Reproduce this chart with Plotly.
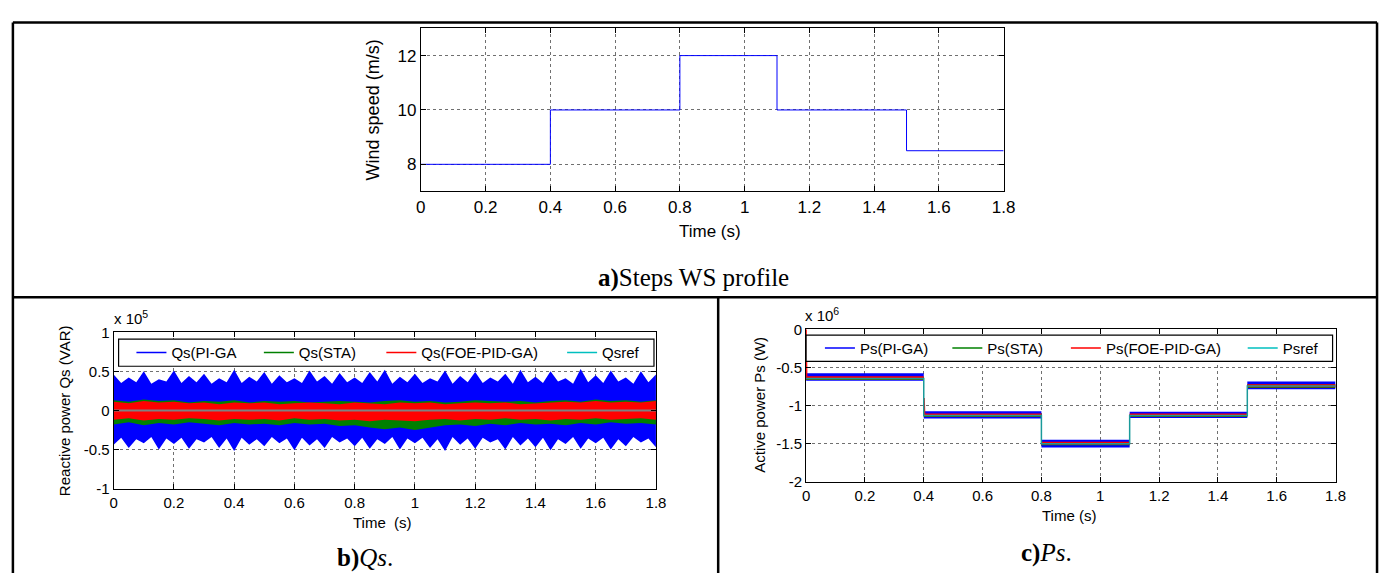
import plotly.graph_objects as go

W, H = 1392, 581
SANS = "Liberation Sans, Arial, sans-serif"
SERIF = "Liberation Serif, Times New Roman, serif"

# ---------------- data ----------------
# a) wind speed step profile
ws_time = [0, 0.4, 0.8, 1.1, 1.5, 1.8]
ws_speed = [8, 10, 12, 10, 8.5, 8.5]

# b) reactive power Qs envelopes (units of 1e5 VAR)
qs_time_fine = [0, 0.025, 0.05, 0.075, 0.1, 0.125, 0.15, 0.175, 0.2, 0.225,
                0.25, 0.275, 0.3, 0.325, 0.35, 0.375, 0.4, 0.425, 0.45, 0.475,
                0.5, 0.525, 0.55, 0.575, 0.6, 0.625, 0.65, 0.675, 0.7, 0.725,
                0.75, 0.775, 0.8, 0.825, 0.85, 0.875, 0.9, 0.925, 0.95, 0.975,
                1.0, 1.025, 1.05, 1.075, 1.1, 1.125, 1.15, 1.175, 1.2, 1.225,
                1.25, 1.275, 1.3, 1.325, 1.35, 1.375, 1.4, 1.425, 1.45, 1.475,
                1.5, 1.525, 1.55, 1.575, 1.6, 1.625, 1.65, 1.675, 1.7, 1.725,
                1.75, 1.775, 1.8]
qs_pi_upper = [0.46, 0.35, 0.42, 0.36, 0.50, 0.34, 0.40, 0.37, 0.51, 0.35,
               0.44, 0.36, 0.47, 0.34, 0.41, 0.36, 0.52, 0.35, 0.43, 0.37,
               0.49, 0.34, 0.45, 0.36, 0.41, 0.35, 0.51, 0.37, 0.44, 0.34,
               0.48, 0.36, 0.42, 0.35, 0.49, 0.37, 0.52, 0.34, 0.43, 0.36,
               0.47, 0.35, 0.41, 0.37, 0.51, 0.34, 0.44, 0.36, 0.49, 0.35,
               0.42, 0.37, 0.47, 0.34, 0.52, 0.36, 0.43, 0.35, 0.50, 0.37,
               0.41, 0.34, 0.53, 0.36, 0.45, 0.35, 0.51, 0.37, 0.42, 0.34,
               0.50, 0.36, 0.46]
qs_pi_lower = [-0.44, -0.35, -0.48, -0.37, -0.42, -0.34, -0.50, -0.36, -0.43, -0.35,
               -0.49, -0.37, -0.41, -0.34, -0.48, -0.36, -0.52, -0.35, -0.44, -0.37,
               -0.46, -0.34, -0.42, -0.36, -0.51, -0.35, -0.45, -0.37, -0.48, -0.34,
               -0.41, -0.36, -0.46, -0.35, -0.49, -0.37, -0.43, -0.34, -0.50, -0.36,
               -0.42, -0.35, -0.48, -0.37, -0.52, -0.34, -0.44, -0.36, -0.49, -0.35,
               -0.41, -0.37, -0.50, -0.34, -0.45, -0.36, -0.47, -0.35, -0.51, -0.37,
               -0.43, -0.34, -0.49, -0.36, -0.42, -0.35, -0.50, -0.37, -0.46, -0.34,
               -0.41, -0.36, -0.47]
qs_time = [0, 0.05, 0.1, 0.15, 0.2, 0.25, 0.3, 0.35, 0.4, 0.45,
           0.5, 0.55, 0.6, 0.65, 0.7, 0.75, 0.8, 0.85, 0.9, 0.95,
           1.0, 1.05, 1.1, 1.15, 1.2, 1.25, 1.3, 1.35, 1.4, 1.45,
           1.5, 1.55, 1.6, 1.65, 1.7, 1.75, 1.8]
qs_sta_upper = [0.13, 0.11, 0.14, 0.12, 0.13, 0.10, 0.12, 0.11, 0.13, 0.10,
                0.12, 0.11, 0.12, 0.10, 0.11, 0.12, 0.11, 0.10, 0.12, 0.13,
                0.11, 0.12, 0.10, 0.11, 0.13, 0.12, 0.11, 0.12, 0.10, 0.12,
                0.13, 0.11, 0.14, 0.12, 0.13, 0.11, 0.13]
qs_sta_lower = [-0.18, -0.15, -0.19, -0.16, -0.18, -0.15, -0.17, -0.19, -0.16, -0.18,
                -0.17, -0.19, -0.16, -0.18, -0.17, -0.20, -0.19, -0.22, -0.24, -0.22,
                -0.25, -0.22, -0.19, -0.18, -0.20, -0.17, -0.19, -0.16, -0.18, -0.17,
                -0.19, -0.16, -0.18, -0.15, -0.17, -0.16, -0.18]
qs_foe_upper = [0.11, 0.09, 0.12, 0.10, 0.11, 0.09, 0.10, 0.08, 0.10, 0.09,
                0.10, 0.08, 0.09, 0.10, 0.09, 0.08, 0.10, 0.09, 0.08, 0.10,
                0.09, 0.10, 0.08, 0.09, 0.10, 0.09, 0.10, 0.08, 0.09, 0.10,
                0.11, 0.10, 0.12, 0.10, 0.11, 0.10, 0.12]
qs_foe_lower = [-0.12, -0.10, -0.13, -0.11, -0.12, -0.10, -0.11, -0.13, -0.11, -0.12,
                -0.11, -0.13, -0.10, -0.12, -0.11, -0.13, -0.12, -0.14, -0.12, -0.13,
                -0.14, -0.12, -0.11, -0.13, -0.11, -0.12, -0.10, -0.12, -0.11, -0.13,
                -0.11, -0.12, -0.10, -0.12, -0.11, -0.10, -0.12]
qs_ref_time = [0, 1.8]
qs_ref = [0, 0]

# c) active power Ps (units of 1e6 W), step segments
ps_time = [0, 0.4, 0.8, 1.1, 1.5, 1.8]
ps_ref = [-0.645, -1.13, -1.50, -1.13, -0.745, -0.745]
ps_pi_upper = [-0.575, -1.075, -1.45, -1.08, -0.685, -0.685]
ps_pi_lower = [-0.675, -1.17, -1.55, -1.165, -0.785, -0.785]
ps_sta_upper = [-0.625, -1.115, -1.485, -1.115, -0.725, -0.725]
ps_sta_lower = [-0.665, -1.15, -1.52, -1.15, -0.77, -0.77]
ps_foe_upper = [-0.615, -1.105, -1.475, -1.105, -0.72, -0.72]
ps_foe_lower = [-0.655, -1.14, -1.51, -1.14, -0.76, -0.76]
ps_foe_trans_t = [0, 0.002, None, 0.401, 0.403]
ps_foe_trans_p = [0.0, -0.62, None, -0.90, -1.12]

x_ticks = [0, 0.2, 0.4, 0.6, 0.8, 1.0, 1.2, 1.4, 1.6, 1.8]
x_ticktext = ["0", "0.2", "0.4", "0.6", "0.8", "1", "1.2", "1.4", "1.6", "1.8"]
ws_yticks = [8, 10, 12]
qs_yticks = [-1, -0.5, 0, 0.5, 1]
qs_yticktext = ["-1", "-0.5", "0", "0.5", "1"]
ps_yticks = [-2, -1.5, -1, -0.5, 0]
ps_yticktext = ["-2", "-1.5", "-1", "-0.5", "0"]

BLUE, GREEN, RED, CYAN = "#0000ff", "#008000", "#ff0000", "#00bfbf"


def px_x(v):
    return v / W


def px_y(v):
    return 1 - v / H


fig = go.Figure()

# ---- a) ----
fig.add_trace(go.Scatter(x=ws_time, y=ws_speed, mode="lines", line=dict(color=BLUE, width=1, shape="hv"),
                         showlegend=False, xaxis="x", yaxis="y"))


# ---- b) ----
def band_poly(t, up, lo, color, ax, ay):
    return go.Scatter(x=list(t) + list(t)[::-1], y=list(up) + list(lo)[::-1], fill="toself",
                      fillcolor=color, line=dict(width=0, color=color), mode="lines",
                      showlegend=False, hoverinfo="skip", xaxis=ax, yaxis=ay)


fig.add_trace(band_poly(qs_time_fine, qs_pi_upper, qs_pi_lower, BLUE, "x2", "y2"))
fig.add_trace(band_poly(qs_time, qs_sta_upper, qs_sta_lower, GREEN, "x2", "y2"))
fig.add_trace(band_poly(qs_time, qs_foe_upper, qs_foe_lower, RED, "x2", "y2"))
fig.add_trace(go.Scatter(x=qs_ref_time, y=qs_ref, mode="lines", line=dict(color="#808080", width=2),
                         showlegend=False, xaxis="x2", yaxis="y2"))

legend_b = [("Qs(PI-GA", BLUE, "legend"), ("Qs(STA)", GREEN, "legend2"),
            ("Qs(FOE-PID-GA)", RED, "legend3"), ("Qsref", CYAN, "legend4")]
for name, col, lg in legend_b:
    fig.add_trace(go.Scatter(x=[None], y=[None], mode="lines", name=name, line=dict(color=col, width=1.5),
                             legend=lg, xaxis="x2", yaxis="y2"))


# ---- c) ----
def band_step(t, up, lo, color, ax, ay):
    return [
        go.Scatter(x=t, y=lo, mode="lines", line=dict(width=0, color=color, shape="hv"),
                   showlegend=False, hoverinfo="skip", xaxis=ax, yaxis=ay),
        go.Scatter(x=t, y=up, mode="lines", line=dict(width=0, color=color, shape="hv"),
                   fill="tonexty", fillcolor=color, showlegend=False, hoverinfo="skip", xaxis=ax, yaxis=ay),
    ]


for tr in band_step(ps_time, ps_pi_upper, ps_pi_lower, BLUE, "x3", "y3"):
    fig.add_trace(tr)
for tr in band_step(ps_time, ps_sta_upper, ps_sta_lower, GREEN, "x3", "y3"):
    fig.add_trace(tr)
for tr in band_step(ps_time, ps_foe_upper, ps_foe_lower, RED, "x3", "y3"):
    fig.add_trace(tr)
fig.add_trace(go.Scatter(x=ps_foe_trans_t, y=ps_foe_trans_p, mode="lines", line=dict(color=RED, width=1.5),
                         showlegend=False, xaxis="x3", yaxis="y3"))
fig.add_trace(go.Scatter(x=ps_time, y=ps_ref, mode="lines", line=dict(color="#1a9a9a", width=1.5, shape="hv"),
                         showlegend=False, xaxis="x3", yaxis="y3"))

legend_c = [("Ps(PI-GA)", BLUE, "legend5"), ("Ps(STA)", GREEN, "legend6"),
            ("Ps(FOE-PID-GA)", RED, "legend7"), ("Psref", CYAN, "legend8")]
for name, col, lg in legend_c:
    fig.add_trace(go.Scatter(x=[None], y=[None], mode="lines", name=name, line=dict(color=col, width=1.5),
                             legend=lg, xaxis="x3", yaxis="y3"))


def axis(domain, rng, tickvals, ticktext, size, anchor):
    return dict(domain=domain, range=rng, tickvals=tickvals, ticktext=ticktext, anchor=anchor,
                showline=True, linecolor="black", linewidth=1, mirror="allticks",
                ticks="inside", ticklen=5, tickcolor="black",
                showgrid=True, gridcolor="#707070", griddash="dot", gridwidth=1, zeroline=False,
                tickfont=dict(family=SANS, size=size, color="black"))


layout = dict(
    width=W, height=H, margin=dict(l=0, r=0, t=0, b=0),
    paper_bgcolor="white", plot_bgcolor="white", showlegend=True,
    xaxis=axis([px_x(421), px_x(1011)], [0, 1.8], x_ticks, x_ticktext, 17, "y"),
    yaxis=axis([px_y(188), px_y(20)], [7, 13], ws_yticks, [str(v) for v in ws_yticks], 17, "x"),
    xaxis2=axis([px_x(110), px_x(659)], [0, 1.8], x_ticks, x_ticktext, 15, "y2"),
    yaxis2=axis([px_y(494), px_y(333)], [-1, 1], qs_yticks, qs_yticktext, 15, "x2"),
    xaxis3=axis([px_x(811), px_x(1347)], [0, 1.8], x_ticks, x_ticktext, 15, "y3"),
    yaxis3=axis([px_y(487), px_y(330)], [-2, 0], ps_yticks, ps_yticktext, 15, "x3"),
)

leg_pos = {"legend": (128, 354), "legend2": (257, 354), "legend3": (381, 354), "legend4": (564, 354),
           "legend5": (825, 349.5), "legend6": (954, 349.5), "legend7": (1074, 349.5), "legend8": (1253, 349.5)}
for lg, (lx, ly) in leg_pos.items():
    layout[lg] = dict(x=px_x(lx), y=px_y(ly), xanchor="left", yanchor="middle", orientation="h",
                      bgcolor="rgba(0,0,0,0)", borderwidth=0, font=dict(family=SANS, size=15, color="black"))

fig.update_layout(**layout)

# table borders and legend boxes
shapes = []
bw = 2.5
for (x0, y0, x1, y1) in [(8, 14, 1389, 14), (8, 14, 8, 581), (1389, 14, 1389, 581),
                         (8, 297, 1389, 297), (722, 297, 722, 581)]:
    shapes.append(dict(type="line", xref="paper", yref="paper", x0=px_x(x0), y0=px_y(y0),
                       x1=px_x(x1), y1=px_y(y1), line=dict(color="black", width=bw)))
for (x0, y0, x1, y1) in [(115, 340, 657, 368), (811, 336, 1344, 363)]:
    shapes.append(dict(type="rect", xref="paper", yref="paper", x0=px_x(x0), y0=px_y(y0),
                       x1=px_x(x1), y1=px_y(y1), line=dict(color="black", width=1.2),
                       fillcolor="white", layer="above"))
fig.update_layout(shapes=shapes)

ann = []


def text(x, y, s, size, family=SANS, angle=0, xanchor="center"):
    ann.append(dict(x=px_x(x), y=px_y(y), xref="paper", yref="paper", text=s, showarrow=False,
                    textangle=angle, xanchor=xanchor, yanchor="middle",
                    font=dict(family=family, size=size, color="black")))


text(373, 104, "Wind speed (m/s)", 18, angle=-90)
text(714, 229, "Time (s)", 17)
text(697, 277, "<b>a)</b>Steps WS profile", 25, family=SERIF)

text(61, 414, "Reactive power Qs (VAR)", 15, angle=-90)
text(382, 529, "Time  (s)", 15)
text(108, 318, "x 10<sup>5</sup>", 15, xanchor="left")
text(364, 566, "<b>b)</b><i>Qs</i>.", 25, family=SERIF)

text(763, 408, "Active power Ps (W)", 15, angle=-90)
text(1077, 522, "Time (s)", 15)
text(808, 315, "x 10<sup>6</sup>", 15, xanchor="left")
text(1054, 560, "<b>c)</b><i>Ps</i>.", 25, family=SERIF)

fig.update_layout(annotations=ann)

fig.write_html("out.html", config={"displayModeBar": False},
               post_script="document.body.style.margin='0px';document.body.style.overflow='hidden';")
